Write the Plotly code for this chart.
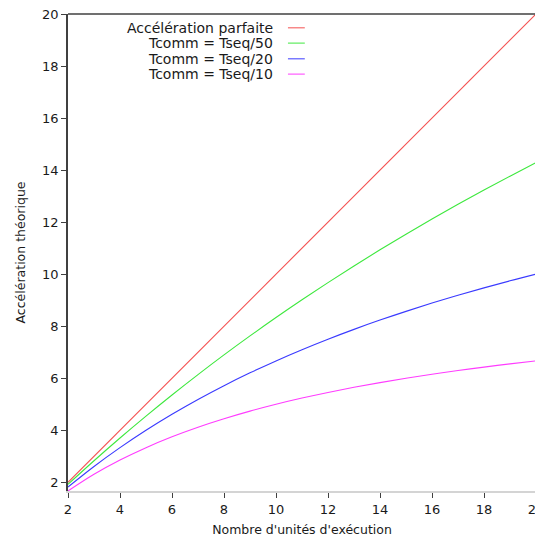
import plotly.graph_objects as go

units = [2, 3, 4, 5, 6, 7, 8, 9, 10, 11, 12, 13, 14, 15, 16, 17, 18, 19, 20]
parfaite = [2, 3, 4, 5, 6, 7, 8, 9, 10, 11, 12, 13, 14, 15, 16, 17, 18, 19, 20]
tseq50 = [1.923, 2.830, 3.704, 4.545, 5.357, 6.140, 6.897, 7.627, 8.333, 9.016,
          9.677, 10.317, 10.938, 11.538, 12.121, 12.687, 13.235, 13.768, 14.286]
tseq20 = [1.818, 2.609, 3.333, 4.000, 4.615, 5.185, 5.714, 6.207, 6.667, 7.097,
          7.500, 7.879, 8.235, 8.571, 8.889, 9.189, 9.474, 9.744, 10.000]
tseq10 = [1.667, 2.308, 2.857, 3.333, 3.750, 4.118, 4.444, 4.737, 5.000, 5.238,
          5.455, 5.652, 5.833, 6.000, 6.154, 6.296, 6.429, 6.552, 6.667]

names = ["Accélération parfaite", "Tcomm = Tseq/50", "Tcomm = Tseq/20", "Tcomm = Tseq/10"]
series = [parfaite, tseq50, tseq20, tseq10]
colors = ["#f45050", "#3ee83e", "#3a3aff", "#ff3cff"]
shapes_kind = ["linear", "spline", "spline", "spline"]
legend_y = [0.971, 0.939, 0.906, 0.874]

x_ticks = [2, 4, 6, 8, 10, 12, 14, 16, 18, 20]
y_ticks = [2, 4, 6, 8, 10, 12, 14, 16, 18, 20]

FONT = "DejaVu Sans"
fig = go.Figure()
for name, ys, c, sk in zip(names, series, colors, shapes_kind):
    fig.add_trace(go.Scatter(x=units, y=ys, mode="lines", name=name,
                             line=dict(color=c, width=1.1, shape=sk),
                             showlegend=False, cliponaxis=False))

shapes = [dict(type="line", xref="paper", yref="paper", x0=0, x1=1, y0=1, y1=1,
               line=dict(color="#404040", width=1.5))]
annotations = []
for name, c, ly in zip(names, colors, legend_y):
    annotations.append(dict(xref="paper", yref="paper", x=0.442, y=ly, text=name,
                            showarrow=False, xanchor="right", yanchor="middle",
                            font=dict(family=FONT, size=14, color="#1a1a1a")))
    shapes.append(dict(type="line", xref="paper", yref="paper", x0=0.470, x1=0.506,
                       y0=ly, y1=ly, line=dict(color=c, width=1)))

fig.update_layout(
    width=535, height=531,
    margin=dict(l=60, r=7, t=6, b=48),
    plot_bgcolor="white", paper_bgcolor="white",
    font=dict(family=FONT, size=13, color="#1a1a1a"),
    shapes=shapes, annotations=annotations,
    xaxis=dict(range=[2, 20], tickvals=x_ticks, ticks="outside", ticklen=5,
               tickcolor="#404040", showline=True, linecolor="#d4d4d4", linewidth=2,
               showgrid=False, zeroline=False, automargin=False,
               ticklabeloverflow="allow",
               title=dict(text="Nombre d'unités d'exécution", standoff=10,
                          font=dict(family=FONT, size=12.5)),
               tickfont=dict(family=FONT, size=13)),
    yaxis=dict(range=[1.6667, 20], tickvals=y_ticks, ticks="outside", ticklen=5,
               tickcolor="#404040", showline=True, linecolor="#404040", linewidth=1.5,
               mirror=True, showgrid=False, zeroline=False, automargin=False,
               ticklabeloverflow="allow",
               title=dict(text="Accélération théorique", standoff=14,
                          font=dict(family=FONT, size=12.5)),
               tickfont=dict(family=FONT, size=13)),
)
fig.write_html("out.html")
